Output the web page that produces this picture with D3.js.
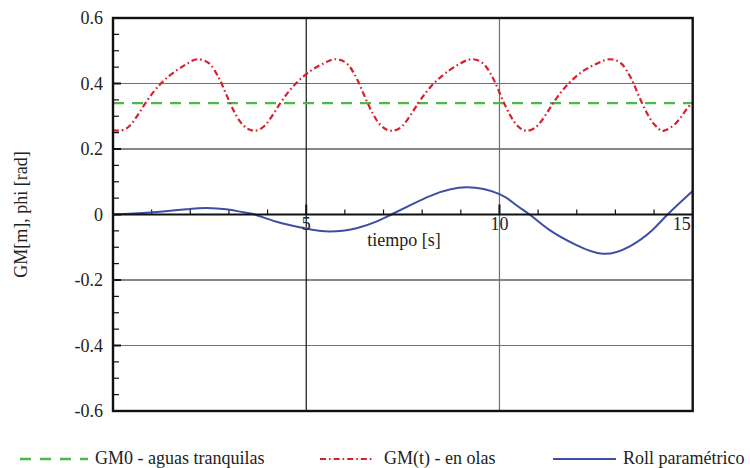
<!DOCTYPE html>
<html>
<head>
<meta charset="utf-8">
<script src="https://cdn.jsdelivr.net/npm/d3@7"></script>
<style>
  body { margin:0; background:#fff }
</style>
</head>
<body>
<div id="chart"></div>
<script>
// GM0 in calm water (constant)
var gm0 = 0.34

// GM(t) in waves
var gmTime = [0, 0.14, 0.44, 0.84, 1.24, 1.64, 1.94, 2.18, 2.48, 2.68, 2.81, 3.03, 3.28, 3.48, 3.63,
    3.93, 4.33, 4.73, 5.13, 5.46, 5.74, 6.04, 6.24, 6.37, 6.59, 6.84, 7.04, 7.20,
    7.50, 7.90, 8.30, 8.70, 9.00, 9.27, 9.57, 9.77, 9.90, 10.12, 10.37, 10.55, 10.69,
    10.99, 11.39, 11.79, 12.19, 12.54, 12.84, 13.14, 13.34, 13.47, 13.69, 13.94, 14.12, 14.26,
    14.56, 14.80, 15.0]
var gmWave = [0.258, 0.256, 0.272, 0.34, 0.40, 0.44, 0.462, 0.474, 0.462, 0.43, 0.40, 0.34, 0.285, 0.262, 0.256,
    0.272, 0.34, 0.40, 0.44, 0.462, 0.474, 0.462, 0.43, 0.40, 0.34, 0.285, 0.262, 0.256,
    0.272, 0.34, 0.40, 0.44, 0.462, 0.474, 0.462, 0.43, 0.40, 0.34, 0.285, 0.262, 0.256,
    0.272, 0.34, 0.40, 0.44, 0.462, 0.474, 0.462, 0.43, 0.40, 0.34, 0.285, 0.262, 0.256,
    0.278, 0.315, 0.342]

// parametric roll angle
var rollTime = [0, 0.96, 1.99, 2.42, 2.93, 3.37, 3.67, 4.23, 4.96, 5.61, 6.30, 6.81, 7.20, 7.67,
    8.28, 9.14, 10.0, 10.43, 10.78, 11.29, 11.98, 12.67, 13.36, 13.96, 14.35, 15.0]
var rollPhi = [0, 0.006, 0.017, 0.020, 0.016, 0.007, 0, -0.022, -0.042, -0.052, -0.042, -0.022, 0, 0.027,
    0.060, 0.083, 0.062, 0.029, 0, -0.047, -0.093, -0.120, -0.098, -0.047, 0, 0.072]

var yTicks = [-0.6, -0.4, -0.2, 0, 0.2, 0.4, 0.6]
var xTicks = [5, 10, 15]
var legendNames = ["GM0 - aguas tranquilas", "GM(t) - en olas", "Roll paramétrico"]

var W = 750, H = 468
var FONT = "'Liberation Serif', 'Times New Roman', 'DejaVu Serif', serif"
var svg = d3.select("#chart").append("svg").attr("width", W).attr("height", H)
    .attr("font-family", FONT)

var x = d3.scaleLinear().domain([0, 15]).range([113, 692.7])
var y = d3.scaleLinear().domain([-0.6, 0.6]).range([411, 18])

var green = "#4cb848", red = "#d7202c", blue = "#3d4fa5"

// grid lines (some black, some grey as in the original)
var hGrid = [{v:0.4, c:"#707070"}, {v:0.2, c:"#111"}, {v:-0.2, c:"#111"}, {v:-0.4, c:"#707070"}]
svg.selectAll(".hgrid").data(hGrid).enter().append("line")
    .attr("x1", x(0)).attr("x2", x(15))
    .attr("y1", function(d){ return y(d.v) }).attr("y2", function(d){ return y(d.v) })
    .attr("stroke", function(d){ return d.c }).attr("stroke-width", 1.2)
var vGrid = [{v:5, c:"#111"}, {v:10, c:"#707070"}]
svg.selectAll(".vgrid").data(vGrid).enter().append("line")
    .attr("y1", y(0.6)).attr("y2", y(-0.6))
    .attr("x1", function(d){ return x(d.v) }).attr("x2", function(d){ return x(d.v) })
    .attr("stroke", function(d){ return d.c }).attr("stroke-width", 1.2)

// minor ticks on the left axis, pointing inward
var yMinor = d3.range(-12, 13).map(function(i){ return i*0.05 })
function isMajor(v) { return Math.abs(v*5 - Math.round(v*5)) < 1e-6 }
svg.selectAll(".ymin").data(yMinor).enter().append("line")
    .attr("x1", x(0)).attr("x2", function(d){ return x(0) + (isMajor(d) ? 8 : 6) })
    .attr("y1", function(d){ return y(d) }).attr("y2", function(d){ return y(d) })
    .attr("stroke", "#111").attr("stroke-width", function(d){ return isMajor(d) ? 2 : 1.2 })

// minor ticks on the x axis (at y=0), pointing up
var xMinor = d3.range(1, 15)
svg.selectAll(".xmin").data(xMinor).enter().append("line")
    .attr("x1", function(d){ return x(d) }).attr("x2", function(d){ return x(d) })
    .attr("y1", y(0)).attr("y2", function(d){ return y(0) - (d % 5 == 0 ? 10 : 5) })
    .attr("stroke", "#111").attr("stroke-width", function(d){ return d % 5 == 0 ? 2 : 1.2 })

svg.append("clipPath").attr("id", "clip").append("rect")
    .attr("x", x(0)).attr("y", y(0.6)).attr("width", x(15) - x(0)).attr("height", y(-0.6) - y(0.6))

var plot = svg.append("g").attr("clip-path", "url(#clip)")

// GM0 line
plot.append("line")
    .attr("x1", x(0)).attr("x2", x(15)).attr("y1", y(gm0)).attr("y2", y(gm0))
    .attr("stroke", green).attr("stroke-width", 2.4).attr("stroke-dasharray", "11,8")

var line = d3.line().curve(d3.curveNatural)
    .x(function(d){ return x(d[0]) }).y(function(d){ return y(d[1]) })

plot.append("path").datum(zip([gmTime, gmWave]))
    .attr("d", line).attr("fill", "none")
    .attr("stroke", red).attr("stroke-width", 2.2).attr("stroke-dasharray", "6,3,1.6,3")

plot.append("path").datum(zip([rollTime, rollPhi]))
    .attr("d", line).attr("fill", "none")
    .attr("stroke", blue).attr("stroke-width", 2)

// x axis through zero
svg.append("line").attr("x1", x(0)).attr("x2", x(15)).attr("y1", y(0)).attr("y2", y(0))
    .attr("stroke", "#111").attr("stroke-width", 2)

// frame
svg.append("rect").attr("x", x(0)).attr("y", y(0.6))
    .attr("width", x(15) - x(0)).attr("height", y(-0.6) - y(0.6))
    .attr("fill", "none").attr("stroke", "#111").attr("stroke-width", 2.4)

// tick labels
svg.selectAll(".ylab").data(yTicks).enter().append("text")
    .attr("x", 103).attr("y", function(d){ return y(d) + 6 })
    .attr("text-anchor", "end").attr("font-size", 18).attr("fill", "#222")
    .text(function(d){ return d == 0 ? "0" : d.toFixed(1) })

svg.selectAll(".xlab").data(xTicks).enter().append("text")
    .attr("x", function(d){ return d == 15 ? x(d) - 2 : x(d) })
    .attr("y", y(0) + 15)
    .attr("text-anchor", function(d){ return d == 15 ? "end" : "middle" })
    .attr("font-size", 18).attr("fill", "#222")
    .text(function(d){ return d })

svg.append("text").attr("x", 404).attr("y", 246).attr("text-anchor", "middle")
    .attr("font-size", 18).attr("fill", "#222").text("tiempo [s]")

svg.append("text").attr("transform", "translate(27," + y(0) + ") rotate(-90)")
    .attr("text-anchor", "middle").attr("font-size", 18).attr("fill", "#222").text("GM[m], phi [rad]")

// legend
var legend = [
    {x1:20, x2:88, tx:95, c:green, dash:"11,9", w:2.4},
    {x1:320, x2:372, tx:384, c:red, dash:"6,3,1.6,3", w:2.2},
    {x1:553, x2:616, tx:623, c:blue, dash:null, w:2}
]
var lg = svg.selectAll(".leg").data(legend).enter().append("g")
lg.append("line")
    .attr("x1", function(d){ return d.x1 }).attr("x2", function(d){ return d.x2 })
    .attr("y1", 459).attr("y2", 459)
    .attr("stroke", function(d){ return d.c }).attr("stroke-width", function(d){ return d.w })
    .attr("stroke-dasharray", function(d){ return d.dash })
lg.append("text")
    .attr("x", function(d){ return d.tx }).attr("y", 464)
    .attr("font-size", 18).attr("fill", "#222")
    .text(function(d, i){ return legendNames[i] })

function zip(arrays) {
    return arrays[0].map(function(_,i){
        return arrays.map(function(array){return array[i]})
    })
}
</script>
</body>
</html>
